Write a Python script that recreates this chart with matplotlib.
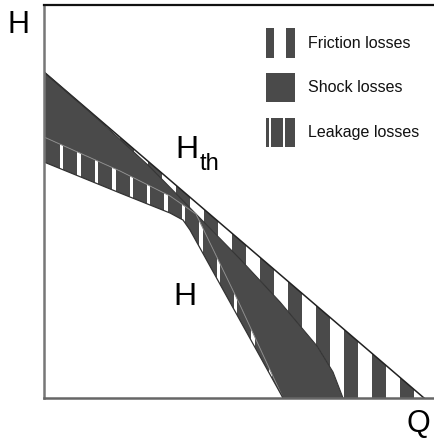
import matplotlib
matplotlib.use("Agg")
import numpy as np
import matplotlib.pyplot as plt
from matplotlib.patches import Rectangle

plt.rcParams['font.family'] = ['Liberation Sans', 'DejaVu Sans']

# curves (Q, H in pixel-like units, origin at the axes corner)
hth_q = [0, 380]
hth_h = [326, 0]

# Hth minus friction losses
fric_q = [0, 56, 106, 151, 196, 236, 273, 289, 299]
fric_h = [326, 277, 231, 185, 139, 96, 52, 26, 0]

# after shock losses
shock_q = [0, 76, 126, 152, 196, 239]
shock_h = [261, 227, 202, 184, 93, 0]

# real head curve H (after leakage losses)
real_q = [0, 76, 126, 139, 146, 239]
real_h = [236, 205, 185, 178, 168, 0]

legend_labels = ['Friction losses', 'Shock losses', 'Leakage losses']

DARK = '#4a4a4a'
W, Hpx = 434, 444

fig = plt.figure(figsize=(W / 100, Hpx / 100), dpi=100)
ax = fig.add_axes([44 / W, (Hpx - 398) / Hpx, 390 / W, 393 / Hpx])
ax.set_xlim(0, 390)
ax.set_ylim(0, 393)
ax.set_xticks([])
ax.set_yticks([])
ax.spines['right'].set_visible(False)
ax.spines['top'].set_color('#111111')
ax.spines['top'].set_linewidth(1.6)
ax.spines['left'].set_color('#777777')
ax.spines['left'].set_linewidth(1.8)
ax.spines['bottom'].set_color('#666666')
ax.spines['bottom'].set_linewidth(1.8)

# shock band: between friction curve and shock curve
sq = list(fric_q) + list(shock_q[::-1])
sh = list(fric_h) + list(shock_h[::-1])
ax.fill(sq, sh, color=DARK, lw=0)

# friction band: between Hth and friction curve, white vertical stripes
fq = list(hth_q) + list(fric_q[::-1])
fh = list(hth_h) + list(fric_h[::-1])
fpoly = ax.fill(fq, fh, color=DARK, lw=0)[0]
for x0 in np.arange(201.7 - 28 * 8, 390, 28):
    r = ax.axvspan(x0, x0 + 14, color='white', lw=0)
    r.set_clip_path(fpoly)

# leakage band: between shock curve and real curve, thin white stripes
lq = list(shock_q) + list(real_q[::-1])
lh = list(shock_h) + list(real_h[::-1])
lpoly = ax.fill(lq, lh, color=DARK, lw=0)[0]
for x0 in np.arange(16, 260, 17.4):
    r = ax.axvspan(x0, x0 + 3.4, color='white', lw=0)
    r.set_clip_path(lpoly)

# outlines
ax.plot(hth_q, hth_h, color='#222222', lw=1.1)
ax.plot(fric_q, fric_h, color='#333333', lw=0.8)
ax.plot(shock_q, shock_h, color='#888888', lw=0.7)
ax.plot(real_q, real_h, color='#333333', lw=0.9)


def fx(px):
    return px / W


def fy(py):
    return 1 - py / Hpx


# legend swatches
def box(x0, y0, x1, y1, c):
    fig.add_artist(Rectangle((fx(x0), fy(y1)), fx(x1) - fx(x0), fy(y0) - fy(y1),
                             transform=fig.transFigure, color=c, lw=0))


box(266, 28, 295, 58, DARK)
box(274, 28, 286, 58, 'white')
box(266, 73, 295, 102, DARK)
box(266, 118, 295, 147, DARK)
box(268.7, 118, 271, 147, 'white')
box(282.7, 118, 285, 147, 'white')

for lab, yc in zip(legend_labels, [43, 88, 133]):
    fig.text(fx(308), fy(yc), lab, fontsize=11.5, ha='left', va='center', color='#111111')

# axis letters and curve labels
fig.text(fx(8), fy(33), 'H', fontsize=22, ha='left', va='baseline')
fig.text(fx(406), fy(432), 'Q', fontsize=22, ha='left', va='baseline')
fig.text(fx(175), fy(158), 'H', fontsize=23, ha='left', va='baseline')
fig.text(fx(200), fy(170), 'th', fontsize=17, ha='left', va='baseline')
fig.text(fx(173), fy(305), 'H', fontsize=23, ha='left', va='baseline')

fig.savefig('out.png', dpi=100)
